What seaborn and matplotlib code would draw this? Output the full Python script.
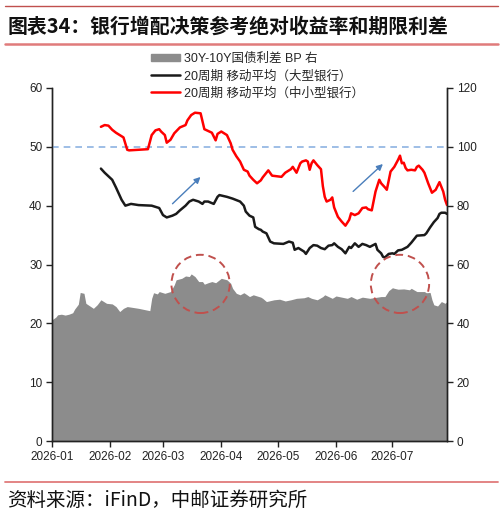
import numpy as np
import pandas as pd
import matplotlib
matplotlib.use("Agg")
import matplotlib.pyplot as plt
import matplotlib.dates as mdates
from matplotlib.patches import Ellipse, Patch
from matplotlib.lines import Line2D
import seaborn as sns

# 30Y-10Y国债利差 (BP, right axis)
spread_dates = ["2026-01-01", "2026-01-03", "2026-01-04", "2026-01-06", "2026-01-08", "2026-01-10",
                "2026-01-12", "2026-01-13", "2026-01-15", "2026-01-16", "2026-01-18", "2026-01-19",
                "2026-01-23", "2026-01-25", "2026-01-27", "2026-01-30", "2026-02-02", "2026-02-04",
                "2026-02-06", "2026-02-08", "2026-02-10", "2026-02-16", "2026-02-22", "2026-02-23",
                "2026-02-24", "2026-02-26", "2026-02-27", "2026-03-02", "2026-03-05", "2026-03-07",
                "2026-03-08", "2026-03-11", "2026-03-13", "2026-03-15", "2026-03-16", "2026-03-18",
                "2026-03-20", "2026-03-22", "2026-03-23", "2026-03-25", "2026-03-27", "2026-03-29",
                "2026-03-31", "2026-04-01", "2026-04-04", "2026-04-06", "2026-04-07", "2026-04-09",
                "2026-04-11", "2026-04-13", "2026-04-14", "2026-04-16", "2026-04-18", "2026-04-21",
                "2026-04-22", "2026-04-23", "2026-04-25", "2026-04-29", "2026-05-02", "2026-05-05",
                "2026-05-08", "2026-05-11", "2026-05-15", "2026-05-17", "2026-05-19", "2026-05-22",
                "2026-05-25", "2026-05-26", "2026-05-28", "2026-05-30", "2026-06-01", "2026-06-04",
                "2026-06-07", "2026-06-09", "2026-06-12", "2026-06-15", "2026-06-19", "2026-06-25",
                "2026-06-27", "2026-06-29", "2026-07-01", "2026-07-02", "2026-07-04", "2026-07-07",
                "2026-07-10", "2026-07-11", "2026-07-14", "2026-07-18", "2026-07-19", "2026-07-21",
                "2026-07-22", "2026-07-23", "2026-07-25", "2026-07-27", "2026-07-29", "2026-07-30"]
spread_vals = [41.2, 42.1, 42.9, 43.1, 42.8, 43.1,
               43.6, 44.8, 46.5, 50.5, 50.2, 46.8,
               45.1, 46.3, 48.0, 46.8, 46.6, 45.7,
               44.0, 45.1, 45.7, 45.1, 44.3, 48.5,
               50.4, 50.0, 50.8, 50.2, 50.8, 53.1,
               54.8, 55.3, 56.1, 55.9, 56.8, 55.9,
               54.2, 54.2, 53.3, 53.8, 54.2, 53.8,
               54.8, 55.3, 54.8, 53.6, 51.9, 50.2,
               49.7, 50.4, 50.0, 49.1, 49.7, 49.1,
               48.9, 48.5, 47.4, 48.0, 48.2, 47.6,
               48.0, 48.5, 48.7, 49.1, 48.5, 48.0,
               49.1, 49.7, 49.1, 48.5, 49.3, 48.9,
               48.5, 49.1, 48.2, 48.9, 48.5, 49.1,
               49.1, 51.1, 52.1, 51.9, 51.6, 51.7,
               51.4, 51.9, 50.8, 50.8, 50.4, 50.5,
               48.0, 46.3, 45.9, 47.4, 46.8, 47.4]

# 20周期移动平均（大型银行）, left axis
big_dates = ["2026-01-27", "2026-01-29", "2026-02-02", "2026-02-04", "2026-02-05", "2026-02-07",
             "2026-02-09", "2026-02-12", "2026-02-16", "2026-02-23", "2026-02-27", "2026-03-01",
             "2026-03-03", "2026-03-06", "2026-03-08", "2026-03-10", "2026-03-13", "2026-03-15",
             "2026-03-17", "2026-03-20", "2026-03-22", "2026-03-23", "2026-03-25", "2026-03-28",
             "2026-03-30", "2026-03-31", "2026-04-04", "2026-04-07", "2026-04-11", "2026-04-13",
             "2026-04-14", "2026-04-16", "2026-04-18", "2026-04-19", "2026-04-21", "2026-04-22",
             "2026-04-23", "2026-04-25", "2026-04-26", "2026-04-27", "2026-04-29", "2026-05-04",
             "2026-05-07", "2026-05-09", "2026-05-10", "2026-05-12", "2026-05-15", "2026-05-16",
             "2026-05-18", "2026-05-20", "2026-05-22", "2026-05-24", "2026-05-26", "2026-05-28",
             "2026-05-30", "2026-05-31", "2026-06-02", "2026-06-04", "2026-06-06", "2026-06-08",
             "2026-06-09", "2026-06-11", "2026-06-13", "2026-06-15", "2026-06-17", "2026-06-19",
             "2026-06-22", "2026-06-23", "2026-06-25", "2026-06-26", "2026-06-27", "2026-06-29",
             "2026-07-01", "2026-07-02", "2026-07-04", "2026-07-06", "2026-07-09", "2026-07-11",
             "2026-07-14", "2026-07-18", "2026-07-19", "2026-07-21", "2026-07-23", "2026-07-25",
             "2026-07-26", "2026-07-27", "2026-07-29", "2026-07-30"]
big_vals = [46.3, 45.6, 44.4, 43.1, 42.4, 41.0,
            40.0, 40.3, 40.1, 40.0, 39.6, 38.4,
            38.0, 38.3, 38.6, 39.2, 40.0, 40.7,
            41.0, 40.7, 40.3, 40.7, 40.7, 40.3,
            41.5, 41.8, 41.5, 41.2, 40.7, 40.0,
            39.0, 38.3, 38.0, 36.4, 36.0, 35.9,
            35.6, 35.3, 34.6, 33.9, 33.6, 33.5,
            33.9, 33.7, 32.5, 32.8, 32.2, 31.8,
            32.8, 33.3, 33.2, 32.8, 32.6, 33.2,
            33.3, 33.6, 33.0, 32.6, 31.9, 33.0,
            32.8, 33.6, 33.0, 33.5, 33.3, 33.0,
            33.5, 32.5, 31.9, 31.3, 31.2, 31.8,
            31.9, 31.8, 32.4, 32.5, 33.0, 33.7,
            34.9, 35.0, 35.3, 36.3, 37.2, 37.9,
            38.6, 38.8, 38.8, 38.6]

# 20周期移动平均（中小型银行）, left axis
small_dates = ["2026-01-27", "2026-01-29", "2026-01-31", "2026-02-02", "2026-02-04", "2026-02-06",
               "2026-02-08", "2026-02-10", "2026-02-11", "2026-02-16", "2026-02-21", "2026-02-23",
               "2026-02-25", "2026-02-27", "2026-02-28", "2026-03-02", "2026-03-03", "2026-03-05",
               "2026-03-07", "2026-03-10", "2026-03-13", "2026-03-14", "2026-03-16", "2026-03-18",
               "2026-03-21", "2026-03-23", "2026-03-27", "2026-03-29", "2026-03-30", "2026-04-01",
               "2026-04-04", "2026-04-06", "2026-04-07", "2026-04-09", "2026-04-11", "2026-04-13",
               "2026-04-15", "2026-04-16", "2026-04-18", "2026-04-20", "2026-04-22", "2026-04-23",
               "2026-04-25", "2026-04-26", "2026-04-28", "2026-05-03", "2026-05-05", "2026-05-08",
               "2026-05-09", "2026-05-11", "2026-05-12", "2026-05-13", "2026-05-14", "2026-05-16",
               "2026-05-17", "2026-05-18", "2026-05-19", "2026-05-20", "2026-05-22", "2026-05-24",
               "2026-05-25", "2026-05-26", "2026-05-27", "2026-05-29", "2026-05-30", "2026-05-31",
               "2026-06-02", "2026-06-04", "2026-06-06", "2026-06-08", "2026-06-09", "2026-06-11",
               "2026-06-13", "2026-06-15", "2026-06-17", "2026-06-18", "2026-06-20", "2026-06-22",
               "2026-06-24", "2026-06-25", "2026-06-27", "2026-06-28", "2026-06-30", "2026-07-02",
               "2026-07-04", "2026-07-05", "2026-07-06", "2026-07-07", "2026-07-08", "2026-07-09",
               "2026-07-11", "2026-07-13", "2026-07-14", "2026-07-15", "2026-07-17", "2026-07-18",
               "2026-07-20", "2026-07-22", "2026-07-24", "2026-07-26", "2026-07-28", "2026-07-29",
               "2026-07-30"]
small_vals = [53.4, 53.7, 53.6, 52.9, 52.4, 52.0,
              51.6, 49.5, 49.4, 49.5, 49.6, 52.0,
              52.8, 53.0, 52.6, 52.0, 50.7, 51.2,
              52.3, 53.3, 53.7, 54.5, 55.4, 55.8,
              55.7, 53.0, 52.4, 51.1, 52.2, 52.6,
              52.0, 50.6, 49.5, 48.4, 47.5, 46.1,
              45.8, 45.1, 44.4, 43.8, 44.3, 44.8,
              45.6, 46.0, 45.1, 44.9, 45.6, 46.2,
              46.6, 45.6, 46.4, 47.2, 47.5, 47.7,
              47.5, 46.1, 47.2, 47.7, 46.9, 46.2,
              43.3, 41.5, 40.7, 41.0, 41.4, 39.7,
              38.1, 37.3, 36.6, 37.6, 38.7, 38.4,
              38.7, 39.6, 39.7, 39.4, 39.2, 42.4,
              44.4, 43.8, 43.1, 42.7, 45.8, 46.6,
              47.8, 48.5, 47.2, 47.3, 46.4, 46.0,
              46.1, 46.0, 46.6, 46.8, 46.1, 45.6,
              43.8, 42.2, 42.7, 44.0, 42.4, 41.0,
              40.1]

labels = ["30Y-10Y国债利差 BP 右", "20周期 移动平均（大型银行）", "20周期 移动平均（中小型银行）"]
month_ticks = ["2026-01-01", "2026-02-01", "2026-03-01", "2026-04-01",
               "2026-05-01", "2026-06-01", "2026-07-01"]
ref_level = 50
circle_centers = ["2026-03-21", "2026-07-05"]
arrows = [("2026-03-05", 40.0, "2026-03-22", 45.2), ("2026-06-09", 42.1, "2026-06-27", 47.4)]

sns.set_theme(style="ticks")
plt.rcParams['font.family'] = ['Liberation Sans', 'Noto Sans CJK SC']
plt.rcParams['axes.unicode_minus'] = False

fig = plt.figure(figsize=(5.04, 5.16), dpi=100)
ax = fig.add_axes([52 / 504, 1 - 441 / 516, 395 / 504, 353 / 516])

# area on right scale
ax.fill_between(pd.to_datetime(spread_dates), spread_vals, 0, color="#8c8c8c", lw=0, zorder=1)
ax.set_ylim(0, 120)
ax.set_yticks(range(0, 121, 20))

# lines on left scale (twin drawn above the area)
ax2 = ax.twinx()
ax.yaxis.tick_right()
ax2.yaxis.tick_left()
ax2.set_ylim(0, 60)
ax2.set_yticks(range(0, 61, 10))

ax2.axhline(ref_level, color="#8db3e2", ls=(0, (4, 3)), lw=1.2)
sns.lineplot(x=pd.to_datetime(big_dates), y=big_vals, ax=ax2, color="#1a1a1a", lw=1.8)
sns.lineplot(x=pd.to_datetime(small_dates), y=small_vals, ax=ax2, color="#ff0000", lw=1.8)

for c in circle_centers:
    ax2.add_patch(Ellipse((mdates.date2num(pd.Timestamp(c)), 26.7), width=31, height=9.9,
                          fill=False, ec="#c0504d", lw=1.4, ls=(0, (4, 2.5)), zorder=5))
for d0, v0, d1, v1 in arrows:
    ax2.annotate("", xy=(pd.Timestamp(d1), v1), xytext=(pd.Timestamp(d0), v0),
                 arrowprops=dict(arrowstyle="-|>", color="#4a7ebb", lw=1, mutation_scale=9))

ax.set_xlim(pd.Timestamp("2026-01-01"), pd.Timestamp("2026-07-30"))
ax.set_xticks(pd.to_datetime(month_ticks))
ax.xaxis.set_major_formatter(mdates.DateFormatter("%Y-%m"))

for a in (ax, ax2):
    a.set_xlabel("")
    a.set_ylabel("")
    a.spines["top"].set_visible(False)
    for s in ("left", "right", "bottom"):
        a.spines[s].set_color("#222222")
        a.spines[s].set_linewidth(1)
    a.tick_params(labelsize=8.5, length=4, width=1, color="#222222", labelcolor="#222222", pad=3)
    a.grid(False)

handles = [Patch(color="#8c8c8c"),
           Line2D([], [], color="#1a1a1a", lw=1.8),
           Line2D([], [], color="#ff0000", lw=1.8)]
fig.legend(handles, labels, loc="upper left", bbox_to_anchor=(151 / 504, 1 - 53 / 516),
           frameon=False, fontsize=9, handlelength=2.3, handleheight=0.55, handletextpad=0.3,
           labelspacing=0.38, borderaxespad=0, borderpad=0)

# title, rules and source
fig.add_artist(Line2D([5 / 504, 498 / 504], [1 - 5.5 / 516] * 2, color="#c0504d", lw=1))
fig.add_artist(Line2D([5 / 504, 498 / 504], [1 - 43.5 / 516] * 2, color="#e07b7b", lw=1.8))
fig.add_artist(Line2D([5 / 504, 498 / 504], [1 - 481.5 / 516] * 2, color="#e07b7b", lw=1.3))
fig.text(8 / 504, 1 - 26 / 516, "图表34：银行增配决策参考绝对收益率和期限利差",
         fontsize=14.3, fontweight="bold", va="center", ha="left",
         family=["Noto Sans CJK SC", "DejaVu Sans"], color="#111111")
fig.text(7 / 504, 1 - 500 / 516, "资料来源：iFinD，中邮证券研究所",
         fontsize=14, va="center", ha="left",
         family=["Noto Sans CJK SC", "DejaVu Sans"], color="#111111")

fig.savefig("out.png", dpi=100)
